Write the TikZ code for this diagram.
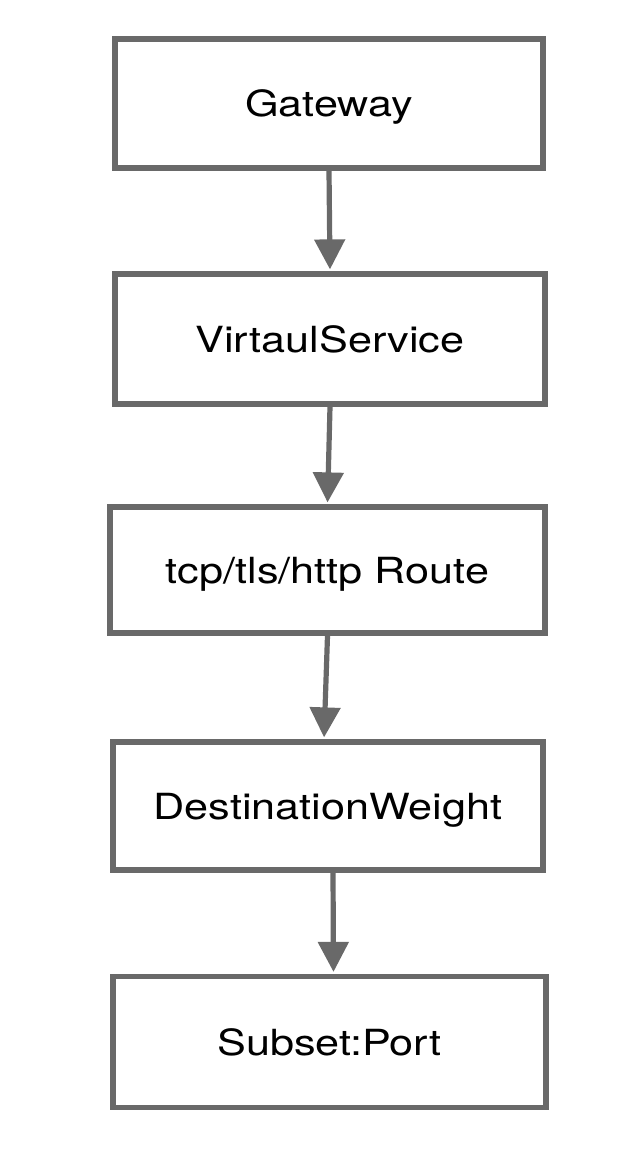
\documentclass[tikz,border=0pt]{standalone}
\usepackage{fontspec}
\setmainfont{TeX Gyre Heros}
\usetikzlibrary{arrows.meta,calc}

\begin{document}
\begin{tikzpicture}[x=0.5pt,y=-0.5pt,>={Triangle[width=15pt,length=15pt]}]
			\definecolor{linegray}{HTML}{696969}
			\tikzstyle{block}=[draw=linegray, line width=2.6pt, fill=white, inner sep=0pt, text depth=0pt, font=\fontsize{18}{20}\selectfont]
			\tikzstyle{link}=[->, draw=linegray, fill=linegray, line width=2.6pt, shorten >=1pt]

			\useasboundingbox (0,0) rectangle (620,1154);

			\node (GW) [block, minimum width=214pt, minimum height=64.5pt] at (329,103.5) {\scalebox{1.2}[1]{Gateway}};
			\node (VS) [block, minimum width=215pt, minimum height=65pt] at (330,339) {\scalebox{1.2}[1]{VirtaulService}};
			\node (RT) [block, minimum width=217.5pt, minimum height=63pt] at (327.5,570) {\scalebox{1.2}[1]{tcp/tls/http Route}};
			\node (DW) [block, minimum width=215pt, minimum height=64pt] at (328,806) {\scalebox{1.2}[1]{DestinationWeight}};
			\node (SP) [block, minimum width=216.5pt, minimum height=65.5pt] at (329.5,1042) {\scalebox{1.2}[1]{Subset:Port}};

			\draw [link] (GW.south) -- (VS.north);
			\draw [link] (VS.south) -- (RT.north);
			\draw [link] ($(RT.south)+(0,0)$) -- ($(DW.north)+(-4,0)$);
			\draw [link] ($(DW.south)+(5,0)$) -- ($(SP.north)+(4,0)$);
		\end{tikzpicture}
\end{document}
